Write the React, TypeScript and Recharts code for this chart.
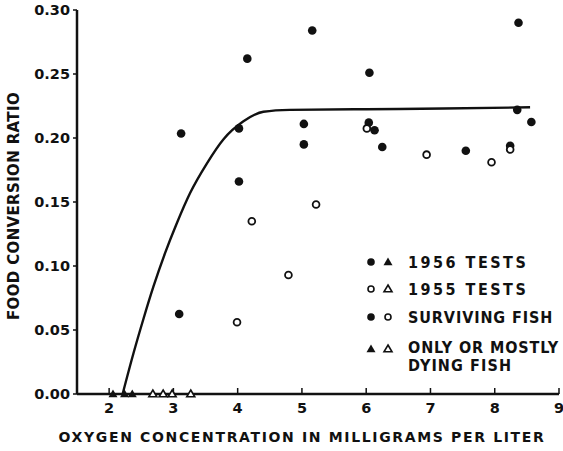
import React from 'react';
import {
  ComposedChart,
  Line,
  Scatter,
  XAxis,
  YAxis,
  Customized,
} from 'recharts';

// ── data ─────────────────────────────────────────────────────────────────────

const FILLED_1956 = [
  { x: 3.12, y: 0.2035 },
  { x: 3.09, y: 0.0625 },
  { x: 4.02, y: 0.2075 },
  { x: 4.02, y: 0.166 },
  { x: 4.15, y: 0.262 },
  { x: 5.03, y: 0.211 },
  { x: 5.03, y: 0.195 },
  { x: 5.16, y: 0.284 },
  { x: 6.05, y: 0.251 },
  { x: 6.04, y: 0.212 },
  { x: 6.13, y: 0.206 },
  { x: 6.25, y: 0.193 },
  { x: 7.55, y: 0.19 },
  { x: 8.24, y: 0.194 },
  { x: 8.37, y: 0.29 },
  { x: 8.35, y: 0.222 },
  { x: 8.57, y: 0.2125 },
];

const OPEN_1955 = [
  { x: 3.99, y: 0.056 },
  { x: 4.22, y: 0.135 },
  { x: 4.79, y: 0.093 },
  { x: 5.22, y: 0.148 },
  { x: 6.01, y: 0.2075 },
  { x: 6.94, y: 0.187 },
  { x: 7.95, y: 0.181 },
  { x: 8.24, y: 0.191 },
];

const DYING_1956 = [
  { x: 2.06, y: 0 },
  { x: 2.24, y: 0 },
  { x: 2.36, y: 0 },
];

const DYING_1955 = [
  { x: 2.68, y: 0 },
  { x: 2.84, y: 0 },
  { x: 2.98, y: 0 },
  { x: 3.27, y: 0 },
];

const CURVE = [
  { x: 2.21, y: 0 },
  { x: 2.38, y: 0.032 },
  { x: 2.53, y: 0.058 },
  { x: 2.69, y: 0.084 },
  { x: 2.87, y: 0.11 },
  { x: 3.05, y: 0.133 },
  { x: 3.26, y: 0.157 },
  { x: 3.52, y: 0.18 },
  { x: 3.78, y: 0.199 },
  { x: 4.09, y: 0.213 },
  { x: 4.4, y: 0.2205 },
  { x: 4.81, y: 0.222 },
  { x: 6.0, y: 0.2225 },
  { x: 7.2, y: 0.223 },
  { x: 8.55, y: 0.224 },
];

const X_TICKS = [2, 3, 4, 5, 6, 7, 8, 9];
const Y_TICKS = [0, 0.05, 0.1, 0.15, 0.2, 0.25, 0.3];

const X_TITLE = 'OXYGEN  CONCENTRATION  IN MILLIGRAMS  PER  LITER';
const Y_TITLE = 'FOOD  CONVERSION  RATIO';
const LEGEND_ROWS = ['1956  TESTS', '1955  TESTS', 'SURVIVING FISH'];

// ── marker shapes ────────────────────────────────────────────────────────────

const INK = '#111';
const FONT = '"DejaVu Sans", sans-serif';
const COND = '"DejaVu Sans Condensed", "Liberation Sans Narrow", "DejaVu Sans", sans-serif';

function Dot(props: any) {
  return <circle cx={props.cx} cy={props.cy} r={4.3} fill={INK} />;
}
function Ring(props: any) {
  return <circle cx={props.cx} cy={props.cy} r={3.4} fill="#fff" stroke={INK} strokeWidth={1.8} />;
}
function tri(cx: number, cy: number, s: number) {
  return `M${cx},${cy - s} L${cx + s},${cy + s * 0.7} L${cx - s},${cy + s * 0.7} Z`;
}
function FilledTri(props: any) {
  return <path d={tri(props.cx, props.cy, 4.5)} fill={INK} />;
}
function OpenTri(props: any) {
  return <path d={tri(props.cx, props.cy, 4)} fill="#fff" stroke={INK} strokeWidth={1.6} />;
}

const txt = { fontFamily: FONT, fontWeight: 700, fontSize: 14, fill: INK } as const;
const leg = { fontFamily: COND, fontWeight: 700, fontSize: 16, fill: INK } as const;

function Labels() {
  const tx = 408;
  const rows = [262, 289, 317];
  return (
    <g style={{ whiteSpace: 'pre' }}>
      <circle cx={371} cy={rows[0]} r={3.8} fill={INK} />
      <path d={tri(388, rows[0], 4.5)} fill={INK} />
      <circle cx={371} cy={rows[1]} r={3} fill="#fff" stroke={INK} strokeWidth={1.6} />
      <path d={tri(388, rows[1], 4)} fill="#fff" stroke={INK} strokeWidth={1.6} />
      <circle cx={371} cy={rows[2]} r={3.8} fill={INK} />
      <circle cx={388} cy={rows[2]} r={3} fill="#fff" stroke={INK} strokeWidth={1.6} />
      <path d={tri(371, 349, 4.5)} fill={INK} />
      <path d={tri(388, 349, 4)} fill="#fff" stroke={INK} strokeWidth={1.6} />
      {LEGEND_ROWS.map((t, i) => (
        <text key={t} x={tx} y={rows[i] + 6} letterSpacing={i < 2 ? 2.5 : 0.9} {...leg}>
          {t}
        </text>
      ))}
      <text x={tx} y={353} letterSpacing={0.9} {...leg}>ONLY OR MOSTLY</text>
      <text x={tx} y={371} letterSpacing={1.1} {...leg}>DYING  FISH</text>

      <text x={302} y={442} textAnchor="middle" letterSpacing={1.65} {...txt}>
        {X_TITLE}
      </text>
      <text
        x={0}
        y={0}
        transform="translate(19,206) rotate(-90)"
        textAnchor="middle"
        letterSpacing={0.35}
        {...txt}
        fontSize={15}
      >
        {Y_TITLE}
      </text>
    </g>
  );
}

export default function App() {
  const tick = { ...txt, fontSize: 14.5 };
  return (
    <div style={{ position: 'fixed', left: 0, top: 0, background: '#fff' }}>
      <ComposedChart width={563} height={451} margin={{ top: 10, right: 4, bottom: 0, left: 0 }}>
        <XAxis
          type="number"
          dataKey="x"
          domain={[1.5, 9]}
          ticks={X_TICKS}
          allowDataOverflow
          height={57}
          stroke={INK}
          axisLine={{ stroke: INK, strokeWidth: 2.5 }}
          tickLine={{ stroke: INK, strokeWidth: 1.5, transform: 'translate(0,-6)' }}
          tickSize={6}
          tickMargin={3}
          tick={tick}
        />
        <YAxis
          type="number"
          dataKey="y"
          domain={[0, 0.3]}
          ticks={Y_TICKS}
          width={77}
          stroke={INK}
          axisLine={{ stroke: INK, strokeWidth: 2.5 }}
          tickLine={{ stroke: INK, strokeWidth: 1.5 }}
          tickSize={4}
          tickMargin={3}
          tick={tick}
          tickFormatter={(v: number) => v.toFixed(2)}
        />
        <Line
          data={CURVE}
          dataKey="y"
          type="monotone"
          dot={false}
          stroke={INK}
          strokeWidth={2.4}
          isAnimationActive={false}
        />
        <Scatter data={FILLED_1956} dataKey="y" shape={Dot} isAnimationActive={false} />
        <Scatter data={OPEN_1955} dataKey="y" shape={Ring} isAnimationActive={false} />
        <Scatter data={DYING_1956} dataKey="y" shape={FilledTri} isAnimationActive={false} />
        <Scatter data={DYING_1955} dataKey="y" shape={OpenTri} isAnimationActive={false} />
        <Customized component={Labels} />
      </ComposedChart>
    </div>
  );
}
